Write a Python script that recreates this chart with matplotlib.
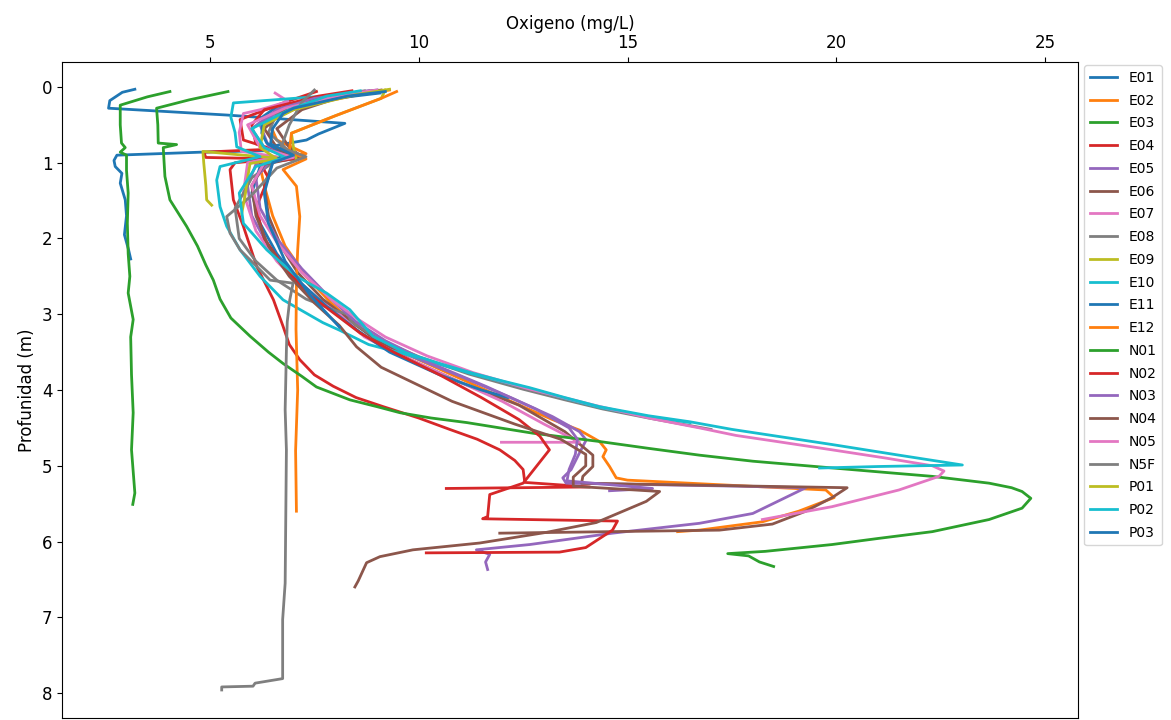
import matplotlib
matplotlib.use("Agg")
import matplotlib.pyplot as plt

# Dissolved oxygen profiles (mg/L) against depth (m) for each station
stations = ["E01", "E02", "E03", "E04", "E05", "E06", "E07", "E08", "E09", "E10",
            "E11", "E12", "N01", "N02", "N03", "N04", "N05", "N5F", "P01", "P02", "P03"]

e01_ox = [3.2, 2.9, 2.6, 2.57, 5.4, 8.23, 7.6, 7.31, 6.6, 6.4, 4.8, 2.77, 2.7, 2.73, 2.89, 2.85, 2.97, 3.0, 2.95, 3.05, 3.1]
e01_depth = [0.03, 0.07, 0.18, 0.28, 0.37, 0.48, 0.62, 0.70, 0.77, 0.84, 0.86, 0.9, 0.97, 1.05, 1.14, 1.27, 1.49, 1.7, 1.95, 2.15, 2.27]

e02_ox = [9.3, 8.6, 7.2, 6.4, 6.6, 7.3, 6.5, 6.2, 6.3, 6.5, 6.8, 7.3, 7.9, 8.5, 9.4, 10.6, 12.0, 13.2, 13.85, 14.33,
          14.49, 14.41, 14.57, 14.73, 15.0, 19.75, 19.95, 19.1, 18.23, 16.72, 16.2]
e02_depth = [0.04, 0.1, 0.25, 0.45, 0.7, 0.88, 0.95, 1.05, 1.3, 1.7, 2.1, 2.5, 2.85, 3.15, 3.45, 3.75, 4.1, 4.39, 4.53, 4.68,
             4.79, 4.88, 5.01, 5.16, 5.19, 5.32, 5.42, 5.6, 5.74, 5.85, 5.87]

e03_ox = [4.04, 3.5, 2.85, 2.85, 2.88, 2.97, 2.85, 3.0, 3.0, 3.04, 3.02, 3.04, 3.08, 3.04, 3.16, 3.1, 3.12, 3.16, 3.12, 3.2, 3.15]
e03_depth = [0.06, 0.13, 0.24, 0.5, 0.74, 0.8, 0.86, 0.9, 1.1, 1.4, 1.8, 2.2, 2.5, 2.72, 3.07, 3.3, 3.8, 4.3, 4.79, 5.36, 5.51]

e04_ox = [7.55, 6.8, 5.72, 5.8, 6.5, 4.85, 4.9, 6.6, 5.6, 5.48, 5.56, 5.8, 6.12, 6.52, 6.75, 6.9, 7.15, 7.5, 7.95, 8.5,
          9.15, 10.0, 10.74, 11.4, 11.94, 12.3, 12.5, 12.54, 14.1, 10.66]
e04_depth = [0.06, 0.2, 0.43, 0.7, 0.82, 0.86, 0.93, 0.95, 1.0, 1.09, 1.49, 1.84, 2.37, 2.81, 3.16, 3.4, 3.6, 3.8, 3.95, 4.1,
             4.22, 4.37, 4.52, 4.65, 4.79, 4.93, 5.05, 5.22, 5.28, 5.3]

e05_ox = [9.0, 8.0, 6.8, 6.2, 6.4, 7.0, 6.1, 5.9, 6.0, 6.4, 6.9, 7.6, 8.3, 8.9, 9.8, 11.0, 12.2, 13.2, 13.85, 14.01,
          13.85, 13.65, 13.45, 13.53, 17.68, 19.27, 18.0, 16.72, 14.64, 12.66, 11.38, 11.7, 11.6, 11.65]
e05_depth = [0.04, 0.1, 0.25, 0.5, 0.78, 0.95, 1.02, 1.3, 1.7, 2.1, 2.45, 2.8, 3.05, 3.3, 3.55, 3.82, 4.1, 4.35, 4.55, 4.66,
             4.83, 5.05, 5.16, 5.23, 5.27, 5.29, 5.63, 5.76, 5.89, 6.04, 6.11, 6.17, 6.27, 6.37]

e06_ox = [9.1, 8.2, 7.2, 6.6, 6.9, 7.2, 6.5, 6.3, 6.4, 6.7, 7.1, 7.7, 8.4, 9.0, 9.8, 11.0, 12.4, 13.5, 14.17, 14.17,
          13.93, 13.9, 20.26, 19.9, 19.27, 18.47, 17.2, 11.94]
e06_depth = [0.04, 0.12, 0.3, 0.55, 0.8, 0.92, 1.0, 1.3, 1.7, 2.1, 2.45, 2.8, 3.1, 3.35, 3.6, 3.9, 4.2, 4.55, 4.86, 5.01,
             5.14, 5.23, 5.29, 5.42, 5.6, 5.77, 5.85, 5.89]

e07_ox = [6.56, 6.87, 6.2, 5.8, 5.7, 5.75, 6.6, 5.9, 5.8, 6.1, 6.6, 7.3, 8.1, 8.7, 9.6, 10.8, 12.0, 13.0, 13.85, 11.98]
e07_depth = [0.08, 0.19, 0.3, 0.35, 0.6, 0.85, 0.92, 1.0, 1.4, 1.9, 2.3, 2.7, 3.0, 3.3, 3.55, 3.85, 4.15, 4.45, 4.69, 4.69]

e08_ox = [8.7, 7.6, 6.6, 6.4, 6.9, 6.5, 6.0, 5.6, 5.7, 6.1, 6.6, 7.3, 8.0, 8.3, 8.39, 9.0, 10.0, 11.2, 12.5, 13.5,
          14.4, 15.5, 17.0]
e08_depth = [0.05, 0.15, 0.35, 0.6, 0.85, 1.0, 1.2, 1.6, 2.0, 2.3, 2.55, 2.8, 2.95, 3.0, 3.1, 3.32, 3.56, 3.79, 3.99, 4.13,
             4.25, 4.37, 4.52]

e09_ox = [9.2, 9.1, 8.0, 6.95, 7.0, 7.07, 5.8, 4.83, 4.85, 4.9, 4.92, 5.04]
e09_depth = [0.04, 0.15, 0.38, 0.61, 0.8, 0.96, 0.9, 0.85, 1.0, 1.3, 1.49, 1.56]

e10_ox = [8.9, 7.5, 5.56, 5.5, 5.6, 5.64, 6.2, 5.24, 5.16, 5.24, 5.4, 5.72, 6.2, 6.75, 7.7, 8.1, 8.8, 9.7, 10.5,
          11.3, 12.0, 12.66, 13.5, 14.33, 15.5, 16.5]
e10_depth = [0.08, 0.13, 0.21, 0.4, 0.6, 0.79, 0.92, 1.05, 1.23, 1.58, 1.84, 2.15, 2.5, 2.81, 3.11, 3.21, 3.4, 3.53, 3.66,
             3.79, 3.89, 3.98, 4.11, 4.23, 4.35, 4.43]

e11_ox = [9.07, 8.0, 6.5, 6.27, 6.24, 6.36, 6.8, 6.2, 6.0, 6.2, 6.6, 7.1, 7.8, 8.5, 9.3, 10.5, 11.5, 12.13]
e11_depth = [0.08, 0.15, 0.3, 0.39, 0.61, 0.74, 0.9, 1.05, 1.4, 1.8, 2.2, 2.55, 2.9, 3.2, 3.5, 3.8, 4.0, 4.1]

e12_ox = [9.47, 9.1, 8.0, 6.95, 6.9, 7.3, 6.75, 7.07, 7.15, 7.1, 7.07, 7.06, 7.1, 7.05, 7.07]
e12_depth = [0.06, 0.15, 0.38, 0.61, 0.85, 0.95, 1.09, 1.31, 1.71, 2.15, 2.59, 3.2, 4.0, 4.8, 5.6]

n01_ox = [5.43, 4.5, 3.72, 3.75, 3.76, 4.2, 3.88, 3.92, 4.04, 4.44, 4.7, 4.9, 5.08, 5.24, 5.5, 5.96, 6.4, 6.75, 7.2,
          7.55, 8.35, 9.0, 9.55, 10.3, 11.15, 12.73, 14.33, 15.5, 16.72, 18.0, 19.5, 21.0, 22.3, 23.66, 24.2, 24.45,
          24.66, 24.45, 23.66, 22.3, 21.0, 19.9, 18.3, 17.4, 17.9, 18.16, 18.5]
n01_depth = [0.06, 0.17, 0.28, 0.5, 0.74, 0.76, 0.8, 1.18, 1.49, 1.84, 2.1, 2.35, 2.55, 2.8, 3.05, 3.29, 3.5, 3.65, 3.82,
             3.96, 4.13, 4.22, 4.3, 4.37, 4.43, 4.57, 4.68, 4.77, 4.86, 4.94, 5.01, 5.08, 5.14, 5.23, 5.29, 5.34,
             5.43, 5.56, 5.71, 5.87, 5.96, 6.04, 6.13, 6.16, 6.19, 6.27, 6.33]

n02_ox = [8.4, 7.6, 6.3, 6.0, 6.1, 7.0, 6.2, 6.4, 6.1, 6.3, 6.8, 7.4, 8.0, 8.6, 9.4, 10.5, 11.5, 12.4, 12.9, 13.13,
          12.5, 11.7, 11.65, 11.53, 14.76, 14.64, 14.0, 13.37, 10.18]
n02_depth = [0.05, 0.12, 0.3, 0.5, 0.75, 0.95, 1.0, 1.2, 1.6, 2.0, 2.4, 2.75, 3.0, 3.25, 3.5, 3.8, 4.1, 4.39, 4.61, 4.79,
             5.23, 5.38, 5.67, 5.7, 5.73, 5.85, 6.08, 6.14, 6.15]

n03_ox = [8.8, 7.5, 6.6, 6.0, 6.3, 6.9, 6.4, 6.1, 6.2, 6.6, 7.2, 7.9, 8.5, 9.2, 10.3, 11.6, 12.8, 13.6, 13.8, 13.75,
          13.6, 13.55, 15.6, 14.57]
n03_depth = [0.05, 0.15, 0.3, 0.55, 0.8, 0.92, 1.0, 1.2, 1.6, 2.0, 2.4, 2.8, 3.1, 3.35, 3.65, 3.95, 4.25, 4.5, 4.65, 4.85,
             5.05, 5.2, 5.3, 5.33]

n04_ox = [8.9, 7.8, 6.8, 6.3, 6.6, 7.0, 6.3, 6.0, 6.1, 6.4, 6.9, 7.5, 8.1, 8.51, 9.1, 10.8, 12.3, 13.4, 14.0, 14.0,
          13.7, 13.7, 15.77, 15.45, 14.25, 13.05, 11.46, 9.86, 9.07, 8.75, 8.65, 8.55, 8.47]
n04_depth = [0.05, 0.13, 0.3, 0.55, 0.8, 0.93, 1.02, 1.3, 1.7, 2.1, 2.5, 2.85, 3.15, 3.43, 3.7, 4.15, 4.45, 4.65, 4.85, 5.0,
             5.15, 5.27, 5.34, 5.47, 5.75, 5.88, 6.02, 6.11, 6.2, 6.28, 6.4, 6.52, 6.6]

n05_ox = [9.0, 8.2, 6.8, 5.9, 6.2, 7.0, 6.3, 6.0, 6.2, 6.6, 7.2, 7.9, 8.5, 9.2, 10.2, 11.3, 12.6, 14.2, 15.6, 16.72,
          17.6, 18.7, 19.9, 21.2, 22.3, 22.58, 22.46, 21.5, 19.9, 18.23]
n05_depth = [0.04, 0.1, 0.28, 0.5, 0.8, 0.93, 1.0, 1.3, 1.7, 2.05, 2.45, 2.8, 3.05, 3.3, 3.55, 3.77, 3.98, 4.2, 4.38, 4.5,
             4.6, 4.69, 4.79, 4.9, 5.0, 5.07, 5.14, 5.32, 5.54, 5.71]

n5f_ox = [7.5, 7.2, 6.9, 6.7, 7.3, 6.6, 5.96, 5.4, 5.48, 5.72, 6.12, 6.44, 6.99, 6.91, 6.85, 6.83, 6.8, 6.83, 6.8,
          6.74, 6.74, 6.08, 6.03, 5.28, 5.28]
n5f_depth = [0.04, 0.2, 0.5, 0.8, 0.92, 1.07, 1.45, 1.71, 1.93, 2.15, 2.37, 2.55, 2.59, 2.81, 3.1, 3.47, 4.26, 4.79, 6.55,
             7.03, 7.81, 7.87, 7.91, 7.92, 7.96]

p01_ox = [9.3, 8.5, 7.0, 6.3, 6.2, 6.6, 5.96, 5.9, 5.85, 5.8, 5.76]
p01_depth = [0.03, 0.1, 0.3, 0.5, 0.8, 0.95, 1.01, 1.2, 1.4, 1.55, 1.67]

p02_ox = [8.6, 7.8, 6.9, 6.0, 6.3, 6.8, 6.1, 5.7, 5.8, 6.36, 7.07, 7.79, 8.35, 8.9, 9.7, 10.5, 11.3, 12.0, 12.66,
          13.5, 14.33, 15.5, 16.5, 17.5, 18.7, 19.9, 21.5, 23.02, 21.0, 19.6]
p02_depth = [0.05, 0.12, 0.3, 0.55, 0.8, 0.93, 1.05, 1.4, 1.8, 2.15, 2.5, 2.72, 2.94, 3.29, 3.51, 3.65, 3.78, 3.88, 3.97,
             4.1, 4.22, 4.34, 4.42, 4.52, 4.62, 4.72, 4.86, 4.99, 5.01, 5.03]

p03_ox = [9.2, 8.3, 7.0, 6.75, 6.5, 6.45, 7.0, 6.5, 6.3, 6.4, 6.8, 7.4, 8.1]
p03_depth = [0.06, 0.12, 0.28, 0.35, 0.55, 0.75, 0.9, 1.0, 1.4, 1.8, 2.3, 2.75, 3.17]

profiles = [
    (e01_ox, e01_depth), (e02_ox, e02_depth), (e03_ox, e03_depth), (e04_ox, e04_depth),
    (e05_ox, e05_depth), (e06_ox, e06_depth), (e07_ox, e07_depth), (e08_ox, e08_depth),
    (e09_ox, e09_depth), (e10_ox, e10_depth), (e11_ox, e11_depth), (e12_ox, e12_depth),
    (n01_ox, n01_depth), (n02_ox, n02_depth), (n03_ox, n03_depth), (n04_ox, n04_depth),
    (n05_ox, n05_depth), (n5f_ox, n5f_depth), (p01_ox, p01_depth), (p02_ox, p02_depth),
    (p03_ox, p03_depth),
]

W, H = 1171, 720
fig = plt.figure(figsize=(W / 100, H / 100), dpi=100)
ax = fig.add_axes([62 / W, 2 / H, (1078 - 62) / W, (718 - 62) / H])

for name, (ox, depth) in zip(stations, profiles):
    ax.plot(ox, depth, lw=2.0, label=name)

ax.set_xlim(1.455, 25.79)
ax.set_ylim(8.33, -0.33)
ax.set_xticks([5, 10, 15, 20, 25])
ax.set_yticks(range(0, 9))
ax.xaxis.tick_top()
ax.xaxis.set_label_position("top")
ax.tick_params(labelsize=12)
ax.set_xlabel("Oxigeno (mg/L)", fontsize=12)
ax.set_ylabel("Profunidad (m)", fontsize=12)

ax.legend(loc="upper left", bbox_to_anchor=(1.006, 0.995), borderaxespad=0,
          fontsize=10, labelspacing=0.63, handlelength=2.0)

fig.savefig("out.png", dpi=100)
